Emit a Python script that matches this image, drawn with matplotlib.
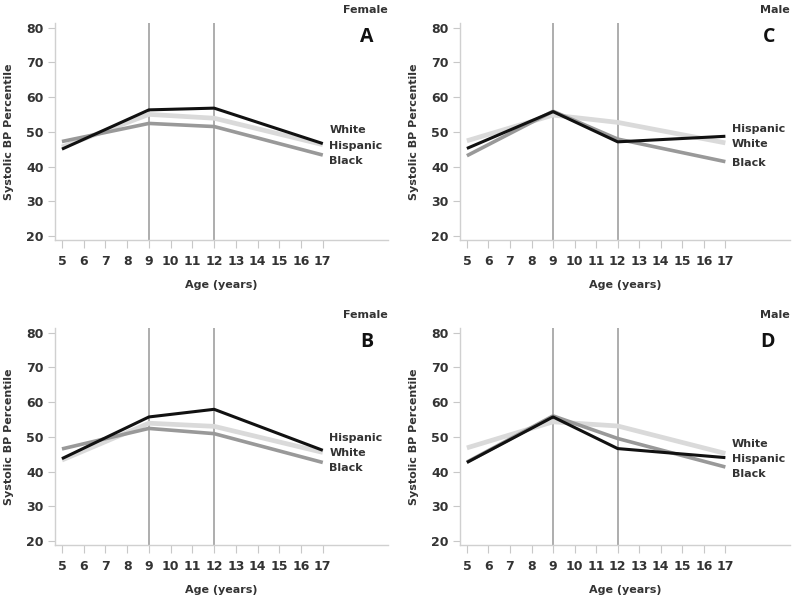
import matplotlib
matplotlib.use("Agg")
import matplotlib.pyplot as plt

plt.rcParams['font.family'] = ['DejaVu Sans']

knots = [5, 9, 12, 17]
ages = list(range(5, 18))

# panel A - female
a_hispanic = [45.0, 56.3, 56.8, 46.6]
a_white = [45.6, 55.0, 53.9, 46.3]
a_black = [47.2, 52.4, 51.5, 43.3]
# panel B - female
b_hispanic = [43.7, 55.7, 57.9, 46.1]
b_white = [43.3, 53.9, 53.0, 45.5]
b_black = [46.5, 52.4, 50.9, 42.6]
# panel C - male
c_hispanic = [45.2, 55.8, 47.1, 48.7]
c_white = [47.4, 54.8, 52.7, 46.8]
c_black = [43.1, 55.9, 47.9, 41.4]
# panel D - male
d_hispanic = [42.6, 55.7, 46.6, 44.0]
d_white = [46.8, 54.3, 53.1, 45.2]
d_black = [42.7, 56.0, 49.5, 41.3]

panels = [
    ("A", "Female", a_hispanic, a_white, a_black, ["White", "Hispanic", "Black"], [50.6, 46.0, 41.6]),
    ("B", "Female", b_hispanic, b_white, b_black, ["Hispanic", "White", "Black"], [49.6, 45.3, 41.0]),
    ("C", "Male", c_hispanic, c_white, c_black, ["Hispanic", "White", "Black"], [50.9, 46.5, 41.1]),
    ("D", "Male", d_hispanic, d_white, d_black, ["White", "Hispanic", "Black"], [47.8, 43.5, 39.2]),
]

W, H = 800, 599
# axes boxes in pixels: left, top, right, bottom
boxes = {"A": (55, 23, 388, 240), "B": (55, 328, 388, 545),
         "C": (460, 23, 790, 240), "D": (460, 328, 790, 545)}

fig = plt.figure(figsize=(8, 5.99), dpi=100)
txt = "#333333"
for letter, sex, hisp, white, black, labs, laby in panels:
    l, t, r, b = boxes[letter]
    ax = fig.add_axes([l / W, (H - b) / H, (r - l) / W, (b - t) / H])
    ax.plot(knots, white, color="#dadada", lw=3.4, solid_capstyle="butt", zorder=2)
    ax.plot(knots, black, color="#999999", lw=2.6, solid_capstyle="butt", zorder=3)
    ax.plot(knots, hisp, color="#111111", lw=2.2, solid_capstyle="butt", zorder=4)
    ax.axvline(9, color="#a0a0a0", lw=1.2, zorder=1)
    ax.axvline(12, color="#a0a0a0", lw=1.2, zorder=1)
    ax.set_xlim(4.68, 20.0)
    ax.set_ylim(18.85, 81.3)
    ax.set_xticks(ages)
    ax.set_yticks([20, 30, 40, 50, 60, 70, 80])
    for s in ["top", "right"]:
        ax.spines[s].set_visible(False)
    for s in ["left", "bottom"]:
        ax.spines[s].set_color("#d0d0d0")
        ax.spines[s].set_linewidth(1.0)
    ax.tick_params(axis="both", colors="#c8c8c8", labelcolor=txt, labelsize=9)
    ax.tick_params(axis="x", length=6, pad=5)
    ax.tick_params(axis="y", length=5, pad=3)
    for lab in ax.get_xticklabels() + ax.get_yticklabels():
        lab.set_fontweight("bold")
    ax.set_ylabel("Systolic BP Percentile", fontsize=8, fontweight="bold", color=txt)
    ax.yaxis.set_label_coords(-0.123, 0.5)
    ax.set_xlabel("Age (years)", fontsize=8, fontweight="bold", color=txt)
    ax.xaxis.set_label_coords(0.5, -0.184)
    for name, yy in zip(labs, laby):
        ax.text(17.3, yy, name, fontsize=8, fontweight="bold", color=txt, va="center", ha="left")
    ax.text(1.0, (b - t + 13) / (b - t), sex, transform=ax.transAxes, fontsize=8,
            fontweight="bold", color=txt, ha="right", va="center")
    ax.text(0.955, (b - t - 14) / (b - t), letter, transform=ax.transAxes, fontsize=14,
            fontweight="bold", color="#111111", ha="right", va="center",
            family=["Open Sans", "DejaVu Sans"])

fig.savefig("out.png", dpi=100)
